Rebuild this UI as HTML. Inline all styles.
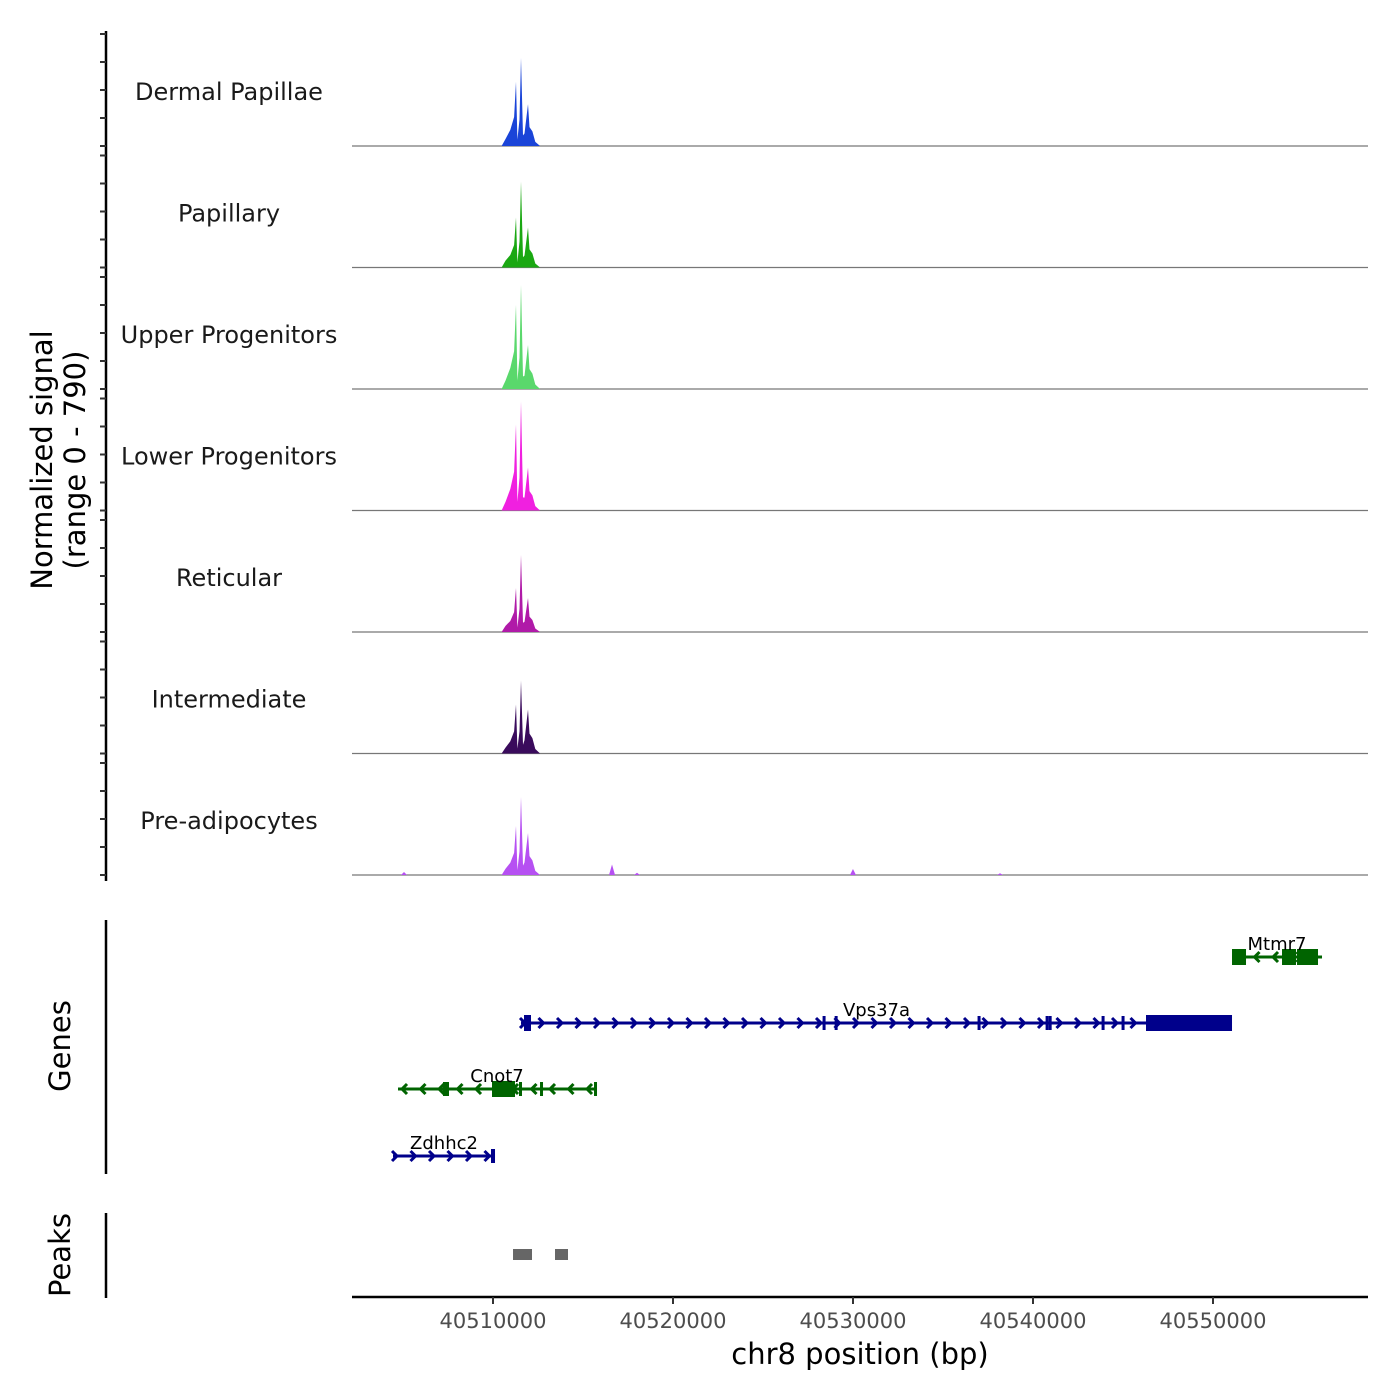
<!DOCTYPE html>
<html><head><meta charset="utf-8"><style>
html,body{margin:0;padding:0;background:#fff}
svg{display:block;font-family:"DejaVu Sans","Liberation Sans",sans-serif}
</style></head><body>
<svg id="chart" width="1400" height="1400" viewBox="0 0 1400 1400" xmlns="http://www.w3.org/2000/svg">
<g id="tracks"></g>
<g id="genes"></g>
<g id="peaks"></g>
<g id="axes">
<text transform="translate(52,460) rotate(-90)" text-anchor="middle" font-size="29">Normalized signal</text>
<text transform="translate(85,460) rotate(-90)" text-anchor="middle" font-size="29">(range 0 - 790)</text>
<text transform="translate(70,1046) rotate(-90)" text-anchor="middle" font-size="29">Genes</text>
<text transform="translate(70,1255) rotate(-90)" text-anchor="middle" font-size="29">Peaks</text>
<line x1="106" y1="31" x2="106" y2="881" stroke="#000" stroke-width="2.5"/>
<line x1="106" y1="920" x2="106" y2="1174" stroke="#000" stroke-width="2.5"/>
<line x1="106" y1="1213" x2="106" y2="1298" stroke="#000" stroke-width="2.5"/>
<line x1="352" y1="1297" x2="1368" y2="1297" stroke="#000" stroke-width="2.5"/>
<text x="860" y="1364" text-anchor="middle" font-size="29">chr8 position (bp)</text>
</g>
</svg>
<script>
const xStart = 40502167, xEnd = 40558611;
const trackNames = ["Dermal Papillae","Papillary","Upper Progenitors","Lower Progenitors","Reticular","Intermediate","Pre-adipocytes"];
const trackColors = ["#1a44d8","#1aa812","#5ad86c","#f020e0","#b01aa8","#3a0b5c","#b650f2"];
const yMax = 790;
const profilePos = [40510478,40510695,40510962,40511173,40511278,40511356,40511473,40511556,40511667,40511750,40511945,40512028,40512189,40512350,40512617];
const dermalVals = [0,47,108,194,430,43,177,590,71,84,280,126,98,28,0];
const papillaryVals = [0,46,84,151,335,34,173,576,69,80,268,121,94,27,0];
const upperVals = [0,56,141,253,563,56,209,697,84,89,295,133,103,30,0];
const lowerVals = [0,58,144,259,576,58,219,730,88,86,288,130,101,29,0];
const reticularVals = [0,41,74,133,295,30,155,516,62,68,228,103,80,23,0];
const intermediateVals = [0,39,82,148,328,33,147,489,59,89,295,133,103,30,0];
const preVals = [0,42,82,148,328,33,157,523,63,84,281,126,98,28,0];
const trackVals = [dermalVals,papillaryVals,upperVals,lowerVals,reticularVals,intermediateVals,preVals];
const preBumpPos = [40505056,40516612,40529998,40518000,40538167];
const preBumpVals = [20,70,40,15,12];
const xTicks = [40510000,40520000,40530000,40540000,40550000];
const geneNames = ["Mtmr7","Vps37a","Cnot7","Zdhhc2"];
const geneStarts = [40551056,40511556,40504723,40504445];
const geneEnds = [40556056,40551056,40515723,40510112];
const geneStrands = [-1,1,-1,1];
const geneExons = [
 [[40551056,40551834],[40553834,40554612],[40554667,40555834]],
 [[40511722,40512111],[40528310,40528360],[40528980,40529030],[40536920,40536970],[40540700,40540750],[40540870,40540920],[40543810,40543860],[40544920,40544970],[40546278,40551056]],
 [[40507223,40507556],[40509945,40511223],[40511445,40511611],[40512612,40512700],[40515612,40515723]],
 [[40509889,40510112]]
];
const peakStarts = [40511112,40513445];
const peakEnds = [40512167,40514167];

const NS="http://www.w3.org/2000/svg";
const X0=352,X1=1368;
const xs = v => X0+(v-xStart)/(xEnd-xStart)*(X1-X0);
const base0=146, trackStep=121.5, trackH=118;
function el(tag,attrs,parent){const e=document.createElementNS(NS,tag);for(const k in attrs)e.setAttribute(k,attrs[k]);parent.appendChild(e);return e;}
const gT=document.getElementById('tracks'), gA=document.getElementById('axes');
trackNames.forEach((name,i)=>{
  const b=base0+i*trackStep;
  const ys=v=>b-v/yMax*trackH;
  const g=el('g',{},gT);
  
  
  const lab=el('text',{x:229,y:b-46,'text-anchor':'middle','font-size':24,fill:'#1a1a1a'},g);
  lab.textContent=name;
  
  
  const bl=el('line',{x1:X0,y1:b,x2:X1,y2:b,stroke:'#777','stroke-width':1.2},g);
  
  
  let d='M'+xs(profilePos[0])+','+b;
  profilePos.forEach((p,j)=>{d+=' L'+xs(p).toFixed(2)+','+ys(trackVals[i][j]).toFixed(2);});
  d+=' L'+xs(profilePos[profilePos.length-1])+','+b+' Z';
  const a=el('path',{d:d,fill:trackColors[i]},g);
  
  
  if(i===6){
    preBumpPos.forEach((p,j)=>{
      const x=xs(p);
      const t=el('path',{d:`M${x-3},${b} L${x},${ys(preBumpVals[j])} L${x+3},${b} Z`,fill:trackColors[i]},g);
      
      
    });
  }
  for(let k=0;k<5;k++){
    const t=el('line',{x1:100,x2:106,y1:b-k*28,y2:b-k*28,stroke:'#333','stroke-width':2},gA);
    
    
  }
});
xTicks.forEach(v=>{
  const x=xs(v);
  const t=el('line',{x1:x,x2:x,y1:1297,y2:1304,stroke:'#333','stroke-width':2},gA);
  
  
  const l=el('text',{x:x,y:1328,'text-anchor':'middle','font-size':21,fill:'#4d4d4d'},gA);
  l.textContent=v;
  
  
});
const gG=document.getElementById('genes');
const geneRowY=[957,1023,1089,1156];
geneNames.forEach((n,i)=>{
  const y=geneRowY[i], col=geneStrands[i]>0?'#00008b':'#006400';
  const g=el('g',{},gG);
  
  
  const s=xs(geneStarts[i]), e=xs(geneEnds[i]);
  el('line',{x1:s,x2:e,y1:y,y2:y,stroke:col,'stroke-width':3},g);
  for(let x=s+4;x<e-4;x+=18.5){
    const dx=geneStrands[i]*5;
    el('polyline',{points:`${x-dx},${y-5} ${x},${y} ${x-dx},${y+5}`,fill:'none',stroke:col,'stroke-width':3},g);
  }
  geneExons[i].forEach(ex=>{
    const a=xs(ex[0]), b=Math.max(xs(ex[1]),a+3);
    const h=(b-a)>6?16:14;
    el('rect',{x:a,y:y-h/2,width:b-a,height:h,fill:col},g);
  });
  const t=el('text',{x:(s+e)/2,y:y-7,'text-anchor':'middle','font-size':18,fill:'#000'},g);
  t.textContent=n;
  
  
});
const gP=document.getElementById('peaks');
peakStarts.forEach((p,i)=>{
  const r=el('rect',{x:xs(p),y:1249,width:xs(peakEnds[i])-xs(p),height:11,fill:'#666'},gP);
  
  
});
</script>
</body></html>
